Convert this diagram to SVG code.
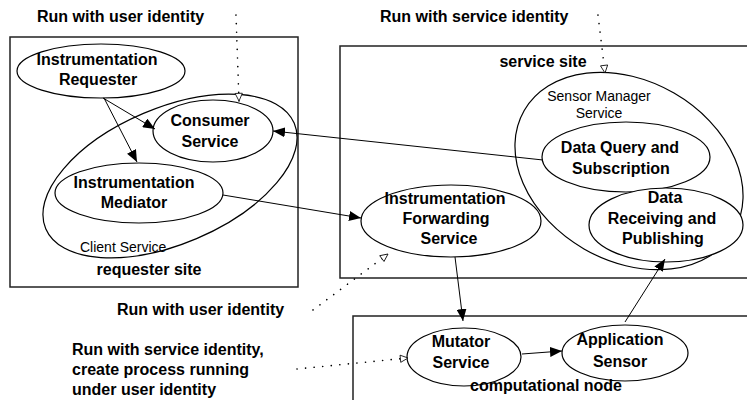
<svg xmlns="http://www.w3.org/2000/svg" width="747" height="400" viewBox="0 0 747 400">
<style>
  .box { fill: #fff; stroke: #222; stroke-width: 1.5; }
  .ell { fill: #fff; stroke: #000; stroke-width: 1.2; }
  .b { font-family: "Liberation Sans", Arial, sans-serif; font-weight: bold; font-size: 16px; fill: #000; }
  .r { font-family: "Liberation Sans", Arial, sans-serif; font-size: 14px; fill: #000; }
  .c { text-anchor: middle; }
  .solid { fill: none; stroke: #000; stroke-width: 1; marker-end: url(#arr); }
  .dot { fill: none; stroke: #000; stroke-width: 1.6; stroke-linecap: round; stroke-dasharray: 0.1 8.5; marker-end: url(#open); }
</style>
<defs>
  <marker id="arr" viewBox="0 0 12 10" refX="12" refY="5" markerWidth="12" markerHeight="10" markerUnits="userSpaceOnUse" orient="auto">
    <path d="M0,0 L12,5 L0,10 z" fill="#000"/>
  </marker>
  <marker id="open" viewBox="0 0 10 10" refX="9.5" refY="5" markerWidth="10" markerHeight="9" markerUnits="userSpaceOnUse" orient="auto">
    <path d="M1,1 L9.5,5 L1,9 z" fill="#fff" stroke="#000" stroke-width="0.9"/>
  </marker>
</defs>

<g id="requester-site">
  <rect class="box" x="10" y="37" width="288" height="250"/>
  <text class="b c" x="149" y="275">requester site</text>
</g>
<g id="service-site">
  <rect class="box" x="340" y="46" width="430" height="232"/>
  <text class="b c" x="543" y="67">service site</text>
</g>
<g id="computational-node">
  <rect class="box" x="353" y="316" width="420" height="110"/>
</g>

<g id="client-service">
  <ellipse class="ell" cx="170" cy="176" rx="135" ry="68" transform="rotate(-23 170 176)"/>
  <text class="r" x="80" y="252">Client Service</text>
</g>
<g id="sensor-manager-service">
  <ellipse class="ell" cx="629" cy="171" rx="121" ry="90" transform="rotate(30 629 171)"/>
  <text class="r c" x="599" y="101">Sensor Manager</text>
  <text class="r c" x="599" y="118">Service</text>
</g>

<g id="instrumentation-requester">
  <ellipse class="ell" cx="101" cy="71" rx="84" ry="27"/>
  <text class="b c" x="97" y="65">Instrumentation</text>
  <text class="b c" x="98" y="85">Requester</text>
</g>
<g id="consumer-service">
  <ellipse class="ell" cx="213" cy="131" rx="60" ry="31"/>
  <text class="b c" x="210" y="126">Consumer</text>
  <text class="b c" x="210" y="147">Service</text>
</g>
<g id="instrumentation-mediator">
  <ellipse class="ell" cx="139" cy="193" rx="84" ry="30"/>
  <text class="b c" x="134" y="188">Instrumentation</text>
  <text class="b c" x="134" y="208">Mediator</text>
</g>
<g id="instrumentation-forwarding-service">
  <ellipse class="ell" cx="451" cy="221" rx="90" ry="36"/>
  <text class="b c" x="445" y="204">Instrumentation</text>
  <text class="b c" x="446" y="224">Forwarding</text>
  <text class="b c" x="449" y="244">Service</text>
</g>
<g id="data-query-subscription">
  <ellipse class="ell" cx="626" cy="157" rx="84" ry="35"/>
  <text class="b c" x="620" y="153">Data Query and</text>
  <text class="b c" x="621" y="174">Subscription</text>
</g>
<g id="data-receiving-publishing">
  <ellipse class="ell" cx="666" cy="225" rx="77" ry="37"/>
  <text class="b c" x="665" y="203">Data</text>
  <text class="b c" x="662" y="224">Receiving and</text>
  <text class="b c" x="663" y="244">Publishing</text>
</g>
<g id="mutator-service">
  <ellipse class="ell" cx="464" cy="357" rx="57" ry="29"/>
  <text class="b c" x="461" y="347">Mutator</text>
  <text class="b c" x="461" y="368">Service</text>
</g>
<g id="application-sensor">
  <ellipse class="ell" cx="625" cy="353" rx="63" ry="28"/>
  <text class="b c" x="620" y="345">Application</text>
  <text class="b c" x="620" y="367">Sensor</text>
</g>

<g id="computational-node-label">
  <text class="b c" x="546" y="391">computational node</text>
</g>

<g id="annotations">
  <text class="b" x="37" y="22">Run with user identity</text>
  <text class="b" x="380" y="22">Run with service identity</text>
  <text class="b" x="117" y="315">Run with user identity</text>
  <text class="b" x="72" y="355">Run with service identity,</text>
  <text class="b" x="72" y="375">create process running</text>
  <text class="b" x="72" y="395">under user identity</text>
</g>

<g id="connectors">
  <line class="solid" x1="103" y1="98" x2="155" y2="129"/>
  <line class="solid" x1="104" y1="98" x2="137" y2="162"/>
  <line class="solid" x1="543" y1="160" x2="273" y2="131"/>
  <line class="solid" x1="223" y1="195" x2="361" y2="218"/>
  <line class="solid" x1="455" y1="257" x2="463" y2="321"/>
  <line class="solid" x1="522" y1="354" x2="562" y2="351"/>
  <line class="solid" x1="625" y1="322" x2="665" y2="259"/>
  <line class="dot" x1="236" y1="15" x2="239" y2="101"/>
  <line class="dot" x1="598" y1="15" x2="605" y2="73"/>
  <line class="dot" x1="313" y1="310" x2="388" y2="254"/>
  <line class="dot" x1="297" y1="369" x2="408" y2="358"/>
</g>
</svg>
